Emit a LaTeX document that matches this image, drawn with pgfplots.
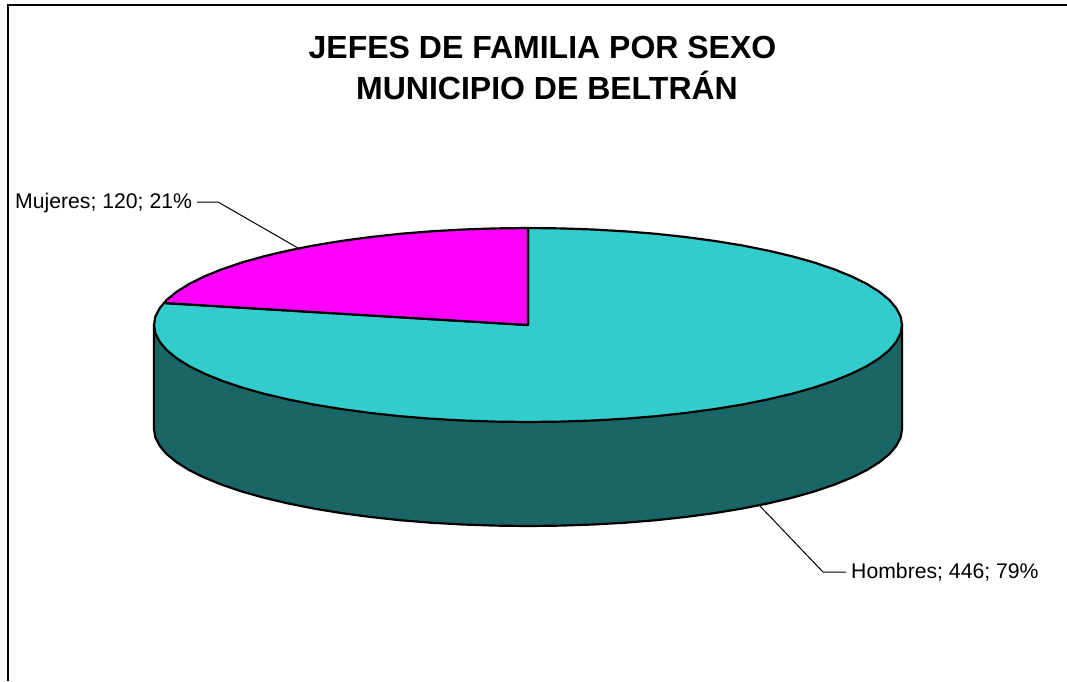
\documentclass[border=0pt]{standalone}
\usepackage{pgfplots}
\pgfplotsset{compat=1.18}
\usepackage{fontspec}
\setmainfont{Liberation Sans}
\definecolor{cyantop}{HTML}{33CCCC}
\definecolor{cyanwall}{HTML}{1A6666}
\definecolor{magtop}{HTML}{FF00FF}
\begin{document}
\begin{tikzpicture}
\path (0pt,0pt) rectangle (1067pt,681pt);
\begin{axis}[
  hide axis, scale only axis, width=1067pt, height=681pt,
  xmin=0, xmax=1067, ymin=0, ymax=681, y dir=reverse,
  clip=true, anchor=south west, at={(0pt,0pt)}
]
% frame
\addplot[black, line width=1.5pt] coordinates {(8,681) (8,5) (1067,5)};
% side wall
\addplot[draw=black, fill=cyanwall, line width=2.2pt, line join=round] coordinates {
(154,325) (154,429) (155.4,437.5) (159.7,445.8) (166.7,454.1) (176.6,462.2) (189,470) (204.1,477.5) (221.6,484.6) (241.5,491.4) (263.5,497.6) (287.6,503.3) (313.5,508.5) (341,513) (369.9,516.9) (400.1,520.2) (431.2,522.7) (463.1,524.5) (495.4,525.6) (528,526)
(560.6,525.6) (592.9,524.5) (624.8,522.7) (655.9,520.2) (686.1,516.9) (715,513) (742.5,508.5) (768.4,503.3) (792.5,497.6) (814.5,491.4) (834.4,484.6) (851.9,477.5) (867,470) (879.4,462.2) (889.3,454.1) (896.3,445.8) (900.6,437.5) (902,429) (902,325)
} --cycle;
% Hombres slice
\addplot[draw=black, fill=cyantop, line width=2.2pt, line join=round] coordinates {
(528,325) (528,228) (560.6,228.4) (592.9,229.5) (624.8,231.3) (655.9,233.8) (686.1,237.1) (715,241) (742.5,245.5) (768.4,250.7) (792.5,256.4) (814.5,262.6) (834.4,269.4) (851.9,276.5) (867,284) (879.4,291.8) (889.3,299.9) (896.3,308.2) (900.6,316.5) (902,325)
(900.6,333.5) (896.3,341.8) (889.3,350.1) (879.4,358.2) (867,366) (851.9,373.5) (834.4,380.6) (814.5,387.4) (792.5,393.6) (768.4,399.3) (742.5,404.5) (715,409) (686.1,412.9) (655.9,416.2) (624.8,418.7) (592.9,420.5) (560.6,421.6) (528,422)
(495.4,421.6) (463.1,420.5) (431.2,418.7) (400.1,416.2) (369.9,412.9) (341,409) (313.5,404.5) (287.6,399.3) (263.5,393.6) (241.5,387.4) (221.6,380.6) (204.1,373.5) (189,366) (176.6,358.2) (166.7,350.1) (159.7,341.8) (155.4,333.5) (154,325)
(155.4,316.5) (159.7,308.2) (164,303)
} --cycle;
% Mujeres slice
\addplot[draw=black, fill=magtop, line width=2.2pt, line join=round] coordinates {
(528,325) (528,228) (495.4,228.4) (463.1,229.5) (431.2,231.3) (400.1,233.8) (369.9,237.1) (341,241) (313.5,245.5) (287.6,250.7) (263.5,256.4) (241.5,262.6) (221.6,269.4) (204.1,276.5) (189,284) (176.6,291.8) (166.7,299.9) (164,303)
} --cycle;
% leader lines
\addplot[black, line width=1pt] coordinates {(197,202) (218,202) (298,248)};
\addplot[black, line width=1pt] coordinates {(759,505) (823,572) (846,572)};
% texts
\node[font=\fontsize{32}{38}\selectfont\bfseries, anchor=base] at (axis cs:542.5,58) {JEFES DE FAMILIA POR SEXO};
\node[font=\fontsize{32}{38}\selectfont\bfseries, anchor=base] at (axis cs:547,99) {MUNICIPIO DE BELTRÁN};
\node[font=\fontsize{21.2}{25}\selectfont, anchor=base west, inner sep=0pt] at (axis cs:15,208) {Mujeres; 120; 21\%};
\node[font=\fontsize{21.2}{25}\selectfont, anchor=base west, inner sep=0pt] at (axis cs:851,578) {Hombres; 446; 79\%};
\end{axis}
\end{tikzpicture}
\end{document}
